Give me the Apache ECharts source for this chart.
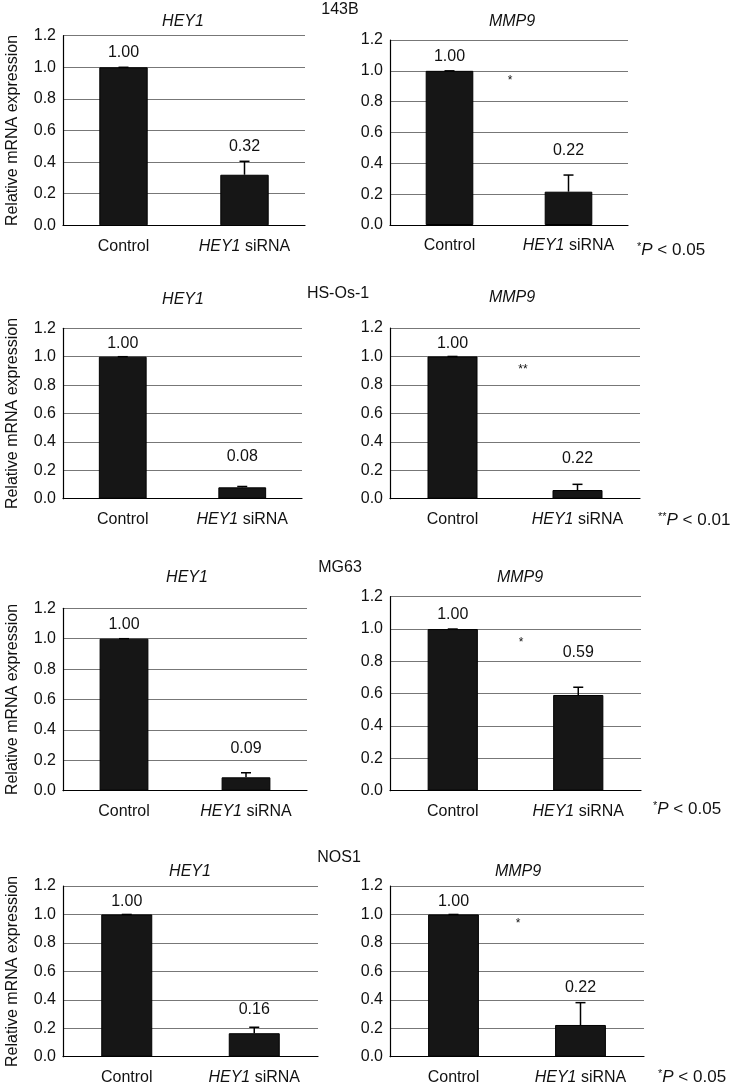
<!DOCTYPE html>
<html>
<head>
<meta charset="utf-8">
<script src="https://cdn.jsdelivr.net/npm/echarts@6/dist/echarts.min.js"></script>
<style>
html,body{margin:0;padding:0;background:#fff;}
#chart{width:735px;height:1086px;}
</style>
</head>
<body>
<div id="chart"></div>
<script>
// ---------- DATA ----------
const categories = ['Control', 'HEY1 siRNA'];
const cellLines = ['143B', 'HS-Os-1', 'MG63', 'NOS1'];
const genes = ['HEY1', 'MMP9'];
const yTickLabels = ['0.0', '0.2', '0.4', '0.6', '0.8', '1.0', '1.2'];

const hey1Values = [[1.00, 0.32], [1.00, 0.08], [1.00, 0.088], [1.00, 0.165]];
const hey1Errors = [[0, 0.085], [0, 0.006], [0, 0.03], [0, 0.042]];
const hey1Labels = [['1.00', '0.32'], ['1.00', '0.08'], ['1.00', '0.09'], ['1.00', '0.16']];

const mmp9Values = [[1.00, 0.216], [1.00, 0.061], [1.00, 0.592], [1.00, 0.223]];
const mmp9Errors = [[0, 0.108], [0, 0.04], [0, 0.048], [0, 0.157]];
const mmp9Labels = [['1.00', '0.22'], ['1.00', '0.22'], ['1.00', '0.59'], ['1.00', '0.22']];

const significance = ['*', '**', '*', '*'];
const pThresholds = ['0.05', '0.01', '0.05', '0.05'];

// ---------- LAYOUT ----------
const FONT = '"Liberation Sans", Arial, Helvetica, sans-serif';
const grids = [
  // [left, top, width, height] per row: HEY1 then MMP9
  [[63, 35.7, 242, 189.6], [390, 40, 238, 185]],
  [[63, 328.3, 239, 170.4], [390, 328, 250, 170.7]],
  [[63, 608.3, 244, 182.4], [390, 596.7, 251, 194]],
  [[63, 886, 255, 170.7], [390, 886, 254, 170.7]]
];
// value-label anchor heights (in axis units) as placed in the figure
const labelAnchors = [
  [[1.09, 0.50], [1.09, 0.48]],
  [[1.09, 0.296], [1.09, 0.28]],
  [[1.09, 0.28], [1.09, 0.854]],
  [[1.09, 0.328], [1.09, 0.488]]
];
const titlePos = [
  [[183, 22], [512, 22]],
  [[183, 300], [512, 298]],
  [[187, 578], [520, 578]],
  [[190, 872], [518, 872]]
];
const cellPos = [[340, 10], [338, 294], [340, 568], [339, 858]];
const starPos = [[510, 81], [523, 370], [521, 643], [518, 924]];
const pPos = [[637, 250], [658, 520], [653, 809], [658, 1077]];

// ---------- BUILD ----------
const option = {
  animation: false,
  backgroundColor: '#fff',
  textStyle: { fontFamily: FONT },
  grid: [], xAxis: [], yAxis: [], series: [], graphic: []
};

let gi = 0;
for (let r = 0; r < 4; r++) {
  for (let c = 0; c < 2; c++) {
    const g = grids[r][c];
    option.grid.push({ left: g[0], top: g[1], width: g[2], height: g[3], containLabel: false });
    option.xAxis.push({
      type: 'category', gridIndex: gi, data: categories,
      axisLine: { lineStyle: { color: '#000', width: 1.2 } },
      axisTick: { show: false },
      axisLabel: {
        interval: 0, hideOverlap: false,
        color: '#111', fontSize: 16, fontFamily: FONT, margin: 13,
        formatter: v => v === 'HEY1 siRNA' ? '{i|HEY1} siRNA' : v,
        rich: { i: { fontStyle: 'italic', fontSize: 16, fontFamily: FONT, color: '#111' } }
      }
    });
    option.yAxis.push({
      type: 'value', gridIndex: gi, min: 0, max: 1.2, interval: 0.2,
      name: c === 0 ? 'Relative mRNA expression' : '',
      nameLocation: 'middle', nameGap: 42,
      nameTextStyle: { fontSize: 16, color: '#111', fontFamily: FONT },
      axisLine: { show: true, lineStyle: { color: '#000', width: 1.2 } },
      axisTick: { show: false },
      axisLabel: {
        color: '#111', fontSize: 16, fontFamily: FONT, margin: 7,
        formatter: v => yTickLabels[Math.round(v / 0.2)]
      },
      splitLine: { show: true, lineStyle: { color: '#777', width: 1 } }
    });
    const vals = c === 0 ? hey1Values[r] : mmp9Values[r];
    const errs = c === 0 ? hey1Errors[r] : mmp9Errors[r];
    const labs = c === 0 ? hey1Labels[r] : mmp9Labels[r];
    const anch = labelAnchors[r][c];
    option.series.push({
      type: 'bar', xAxisIndex: gi, yAxisIndex: gi, barWidth: '40%',
      data: vals,
      itemStyle: { color: '#161616', borderColor: '#000', borderWidth: 1 },
      z: 2
    });
    option.series.push({
      type: 'custom', xAxisIndex: gi, yAxisIndex: gi, z: 3,
      data: vals.map((v, i) => [i, v, errs[i]]),
      renderItem: (params, api) => {
        const x = api.value(0), v = api.value(1), e = api.value(2);
        const b = api.coord([x, v]);
        const t = api.coord([x, v + e]);
        return {
          type: 'group', children: [
            { type: 'line', shape: { x1: b[0], y1: b[1], x2: t[0], y2: t[1] }, style: { stroke: '#000', lineWidth: 1.5 } },
            { type: 'line', shape: { x1: t[0] - 5, y1: t[1], x2: t[0] + 5, y2: t[1] }, style: { stroke: '#000', lineWidth: 1.5 } }
          ]
        };
      }
    });
    option.series.push({
      type: 'custom', xAxisIndex: gi, yAxisIndex: gi, z: 4,
      data: labs.map((s, i) => [i, anch[i], s]),
      renderItem: (params, api) => {
        const p = api.coord([api.value(0), api.value(1)]);
        return {
          type: 'text',
          style: {
            x: p[0], y: p[1], text: labs[params.dataIndex],
            fill: '#111', font: '16px ' + FONT, textAlign: 'center', textVerticalAlign: 'middle'
          }
        };
      }
    });
    option.graphic.push({
      type: 'text', x: titlePos[r][c][0], y: titlePos[r][c][1],
      style: { text: genes[c], font: 'italic 16px ' + FONT, fill: '#111', textAlign: 'center', textVerticalAlign: 'middle' }
    });
    gi++;
  }
  option.graphic.push({
    type: 'text', x: cellPos[r][0], y: cellPos[r][1],
    style: { text: cellLines[r], font: '16px ' + FONT, fill: '#111', textAlign: 'center', textVerticalAlign: 'middle' }
  });
  option.graphic.push({
    type: 'text', x: starPos[r][0], y: starPos[r][1],
    style: { text: significance[r], font: '12px ' + FONT, fill: '#111', textAlign: 'center', textVerticalAlign: 'middle' }
  });
  option.graphic.push({
    type: 'text', x: pPos[r][0], y: pPos[r][1],
    style: {
      text: '{s|' + significance[r] + '}{p|P} < ' + pThresholds[r],
      font: '17px ' + FONT, fill: '#111', textVerticalAlign: 'middle',
      rich: {
        s: { font: '11px ' + FONT, fill: '#111', verticalAlign: 'top' },
        p: { font: 'italic 17px ' + FONT, fill: '#111' }
      }
    }
  });
}

const chart = echarts.init(document.getElementById('chart'), null, { renderer: 'canvas' });
chart.setOption(option);
</script>
</body>
</html>
